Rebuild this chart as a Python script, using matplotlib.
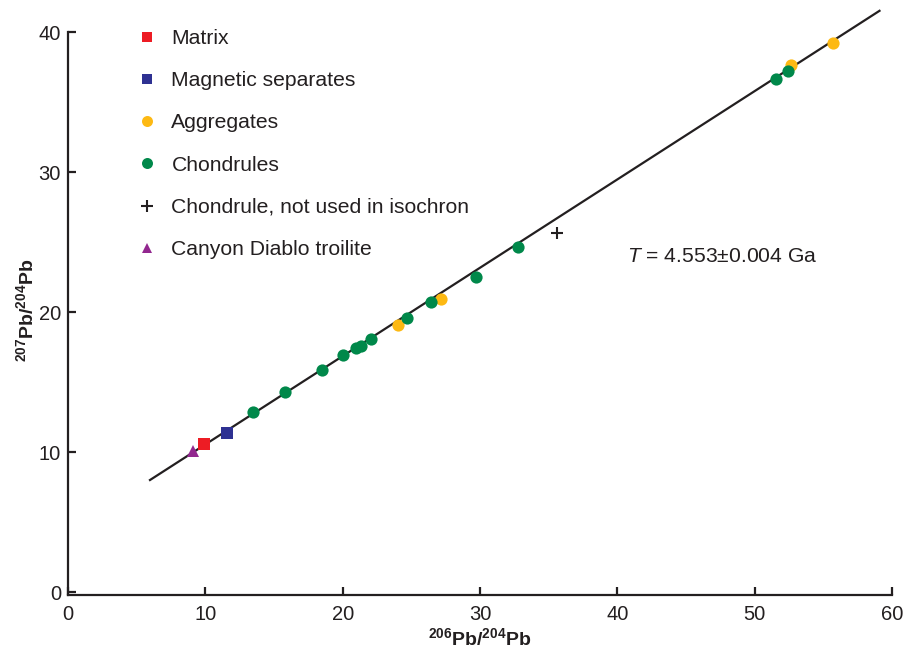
import matplotlib
matplotlib.use("Agg")
import matplotlib.pyplot as plt
import numpy as np

plt.rcParams['font.family'] = ['Liberation Sans', 'DejaVu Sans']
plt.rcParams['mathtext.fontset'] = 'custom'
plt.rcParams['mathtext.rm'] = 'Liberation Sans'
plt.rcParams['mathtext.it'] = 'Liberation Sans:italic'
plt.rcParams['mathtext.bf'] = 'Liberation Sans:bold'

# ---- data (206Pb/204Pb, 207Pb/204Pb) ----
matrix_x = [9.93]
matrix_y = [10.56]
magnetic_x = [11.60]
magnetic_y = [11.35]
aggregates_x = [24.06, 27.15, 52.66, 55.74]
aggregates_y = [19.06, 20.92, 37.66, 39.25]
chondrules_x = [13.47, 15.80, 18.52, 20.05, 20.95, 21.34, 22.05, 24.68, 26.44,
                29.72, 32.75, 51.54, 52.42]
chondrules_y = [12.87, 14.32, 15.87, 16.94, 17.42, 17.61, 18.09, 19.61, 20.71,
                22.54, 24.64, 36.64, 37.23]
excluded_x = [35.64]
excluded_y = [25.64]
cdt_x = [9.13]
cdt_y = [10.11]

# isochron fit
iso_slope = 0.6307
iso_intercept = 4.245
iso_x_range = [5.97, 59.09]

TXT = '#231F20'
RED = '#ED1C24'
BLUE = '#2E3192'
YEL = '#FDB913'
GRN = '#00884A'
PUR = '#92278F'

W, H = 906, 650
fig = plt.figure(figsize=(W / 100, H / 100), dpi=100)
ax = fig.add_axes([68 / W, (H - 595) / H, (892 - 68) / W, (595 - 32) / H])

ix = np.array(iso_x_range)
ax.plot(ix, iso_intercept + iso_slope * ix, color=TXT, lw=1.6, clip_on=False, zorder=2)

ax.plot(matrix_x, matrix_y, 's', color=RED, ms=8.2, mew=0, label='Matrix', zorder=4)
ax.plot(magnetic_x, magnetic_y, 's', color=BLUE, ms=8.2, mew=0, label='Magnetic separates', zorder=4)
ax.plot(aggregates_x, aggregates_y, 'o', color=YEL, ms=8.8, mew=0, label='Aggregates', zorder=3)
ax.plot(chondrules_x, chondrules_y, 'o', color=GRN, ms=8.8, mew=0, label='Chondrules', zorder=4)
ax.plot(excluded_x, excluded_y, '+', color=TXT, ms=9, mew=1.5, label='Chondrule, not used in isochron', zorder=4)
ax.plot(cdt_x, cdt_y, '^', color=PUR, ms=8.6, mew=0, label='Canyon Diablo troilite', zorder=4)

ax.set_xlim(0, 60)
ax.set_ylim(-0.2, 40)
ax.set_xticks([0, 10, 20, 30, 40, 50, 60])
ax.set_yticks([0, 10, 20, 30, 40])

for s in ['top', 'right']:
    ax.spines[s].set_visible(False)
for s in ['left', 'bottom']:
    ax.spines[s].set_linewidth(1.6)
    ax.spines[s].set_color(TXT)

ax.tick_params(axis='both', direction='in', length=5.5, width=1.6, color=TXT,
               labelsize=14.5, labelcolor=TXT)
ax.tick_params(axis='y', pad=5)
ax.tick_params(axis='x', pad=7)

ax.set_xlabel(r'$\mathbf{^{206}Pb/^{204}Pb}$', fontsize=14, color=TXT, va='center')
ax.set_ylabel(r'$\mathbf{^{207}Pb/^{204}Pb}$', fontsize=14, color=TXT, va='center')
ax.xaxis.set_label_coords(0.5, (595 - 638) / 563)
ax.yaxis.set_label_coords((26 - 68) / 824, (595 - 310) / 563)

ax.text(40.7, 24.0, r'$\mathit{T}$ = 4.553±0.004 Ga', fontsize=15.2, color=TXT,
        va='center', ha='left')

leg = ax.legend(loc='upper left', bbox_to_anchor=(136.6 / W, 1 - 29 / H),
                bbox_transform=fig.transFigure, frameon=False, fontsize=15.2,
                handlelength=0.95, handletextpad=0.7, labelspacing=1.1,
                borderpad=0, borderaxespad=0, markerscale=0.9)
for t in leg.get_texts():
    t.set_color(TXT)

fig.savefig('out.png', dpi=100)
